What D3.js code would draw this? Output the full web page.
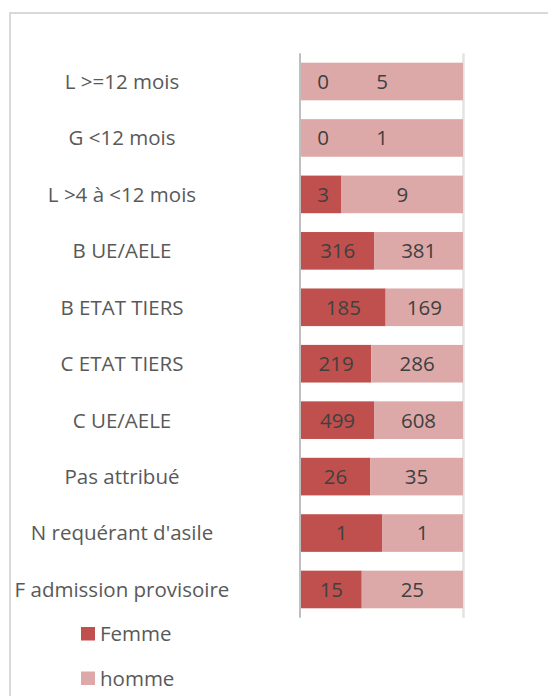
<!DOCTYPE html>
<html>
<head>
<meta charset="utf-8">
<script src="https://cdn.jsdelivr.net/npm/d3@7"></script>
<style>
  html, body { margin: 0; padding: 0; background: #fff; }
  svg { display: block; }
</style>
</head>
<body>
<svg id="chart" width="548" height="696"></svg>
<script>
// Permit categories, top to bottom
const categories = [
  "L >=12 mois",
  "G <12 mois",
  "L >4 à <12 mois",
  "B UE/AELE",
  "B ETAT TIERS",
  "C ETAT TIERS",
  "C UE/AELE",
  "Pas attribué",
  "N requérant d'asile",
  "F admission provisoire"
];
const femme = [0, 0, 3, 316, 185, 219, 499, 26, 1, 15];
const homme = [5, 1, 9, 381, 169, 286, 608, 35, 1, 25];
const seriesNames = ["Femme", "homme"];
const seriesColors = ["#c0504d", "#dda9a8"];

const svg = d3.select("#chart");
const font = "'Open Sans', Lato, sans-serif";
const fontSize = 20.5;

// chart frame (only top and left edges fall inside the page)
svg.append("rect")
  .attr("x", 10).attr("y", 13)
  .attr("width", 560).attr("height", 700)
  .attr("fill", "#fff")
  .attr("stroke", "#d9d9d9").attr("stroke-width", 2);

const plot = { left: 301, right: 463, top: 53.3, bottom: 617.7 };

const y = d3.scaleBand()
  .domain(categories)
  .range([plot.top, plot.bottom])
  .paddingInner(1 / 3)
  .paddingOuter(1 / 6);

const x = d3.scaleLinear().domain([0, 1]).range([plot.left, plot.right]);

// 100% stacked data
const rows = categories.map((c, i) => {
  const total = femme[i] + homme[i];
  return { cat: c, Femme: femme[i] / total, homme: homme[i] / total,
           raw: { Femme: femme[i], homme: homme[i] } };
});
const stacked = d3.stack().keys(seriesNames)(rows);

// right-edge gridline at 100%
svg.append("line")
  .attr("x1", x(1) + 0.5).attr("x2", x(1) + 0.5)
  .attr("y1", plot.top).attr("y2", plot.bottom)
  .attr("stroke", "#e3e3e3").attr("stroke-width", 2.5);

const layers = svg.append("g").selectAll("g")
  .data(stacked).join("g")
  .attr("fill", (d, i) => seriesColors[i]);

layers.selectAll("rect")
  .data(d => d).join("rect")
  .attr("x", d => x(d[0]))
  .attr("width", d => x(d[1]) - x(d[0]))
  .attr("y", d => y(d.data.cat))
  .attr("height", y.bandwidth());

// value labels centred in each segment
stacked.forEach(layer => {
  svg.append("g").selectAll("text")
    .data(layer).join("text")
    .attr("x", d => Math.max((x(d[0]) + x(d[1])) / 2, x(d[0]) + 22))
    .attr("y", d => y(d.data.cat) + y.bandwidth() / 2)
    .attr("dy", "0.36em")
    .attr("text-anchor", "middle")
    .attr("font-family", font)
    .attr("font-size", fontSize)
    .attr("fill", "#404040")
    .text(d => d.data.raw[layer.key]);
});

// category axis
svg.append("line")
  .attr("x1", plot.left - 1).attr("x2", plot.left - 1)
  .attr("y1", plot.top).attr("y2", plot.bottom)
  .attr("stroke", "#bfbfbf").attr("stroke-width", 2);

svg.append("g").selectAll("text")
  .data(categories).join("text")
  .attr("x", 122)
  .attr("y", d => y(d) + y.bandwidth() / 2)
  .attr("dy", "0.36em")
  .attr("text-anchor", "middle")
  .attr("font-family", font)
  .attr("font-size", fontSize)
  .attr("fill", "#595959")
  .text(d => d);

// legend
const legend = svg.append("g").selectAll("g")
  .data(seriesNames).join("g")
  .attr("transform", (d, i) => `translate(81, ${627 + i * 44.5})`);
legend.append("rect")
  .attr("width", 14).attr("height", 13.5)
  .attr("fill", (d, i) => seriesColors[i]);
legend.append("text")
  .attr("x", 19).attr("y", 7)
  .attr("dy", "0.36em")
  .attr("font-family", font)
  .attr("font-size", fontSize)
  .attr("fill", "#595959")
  .text(d => d);
</script>
</body>
</html>
